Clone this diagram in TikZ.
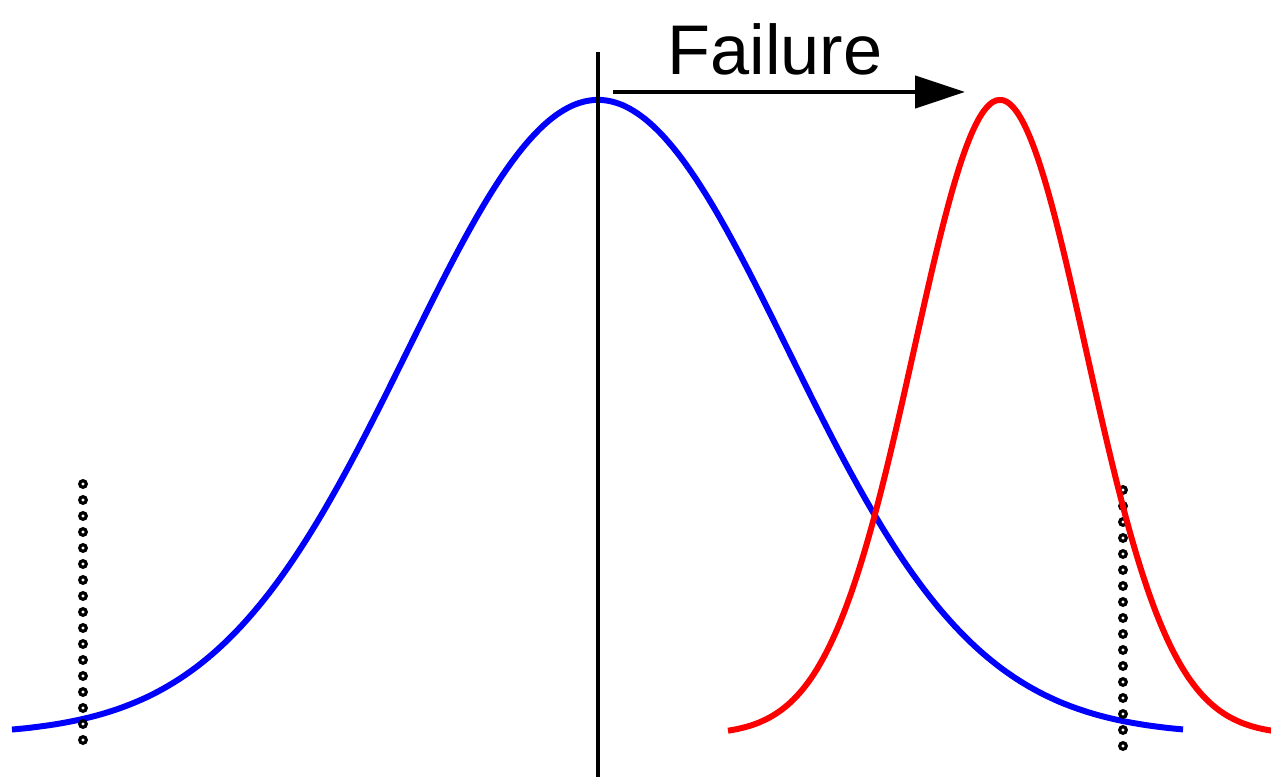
\documentclass[tikz,border=0pt]{standalone}
\usepackage{fontspec}
\newfontfamily\labelfont{Liberation Sans}
\usetikzlibrary{arrows.meta}

\begin{document}
\begin{tikzpicture}[x=0.1mm, y=-0.1mm,
  curve/.style={line width=1.7pt, draw=#1},
  meanline/.style={line width=1.3pt, draw=black},
  arr/.style={-{Triangle[length=5mm, width=3.2mm]}, line width=1.3pt},
  dotring/.style={draw=black, line width=0.9pt},
  lbl/.style={font=\labelfont\fontsize{20}{24}\selectfont, inner sep=0pt}
]
\useasboundingbox (0,0) rectangle (1271,777);

% Blue distribution
\draw[curve=blue] plot[domain=12:1183, samples=160, smooth]
  (\x, {735-635*exp(-0.5*((\x-598)/190)^2)});

% Tolerance limits
\foreach \k in {0,...,16} {
  \draw[dotring] (83,484+16*\k) circle (3.3);
  \draw[dotring] (1123,490+16*\k) circle (3.3);
}

% Red distribution
\draw[curve=red] plot[domain=728:1275, samples=160, smooth]
  (\x, {735-635*exp(-0.5*((\x-1000)/86)^2)});

% Mean and shift
\coordinate (top) at (598,52);
\coordinate (bottom) at (598,777);
\draw[meanline] (top) -- (bottom);

\coordinate (shiftstart) at (613,92);
\coordinate (shiftend) at (965,92);
\draw[arr] (shiftstart) -- (shiftend);

\node[lbl, anchor=base] (failure) at (775,75) {Failure};
\end{tikzpicture}
\end{document}
